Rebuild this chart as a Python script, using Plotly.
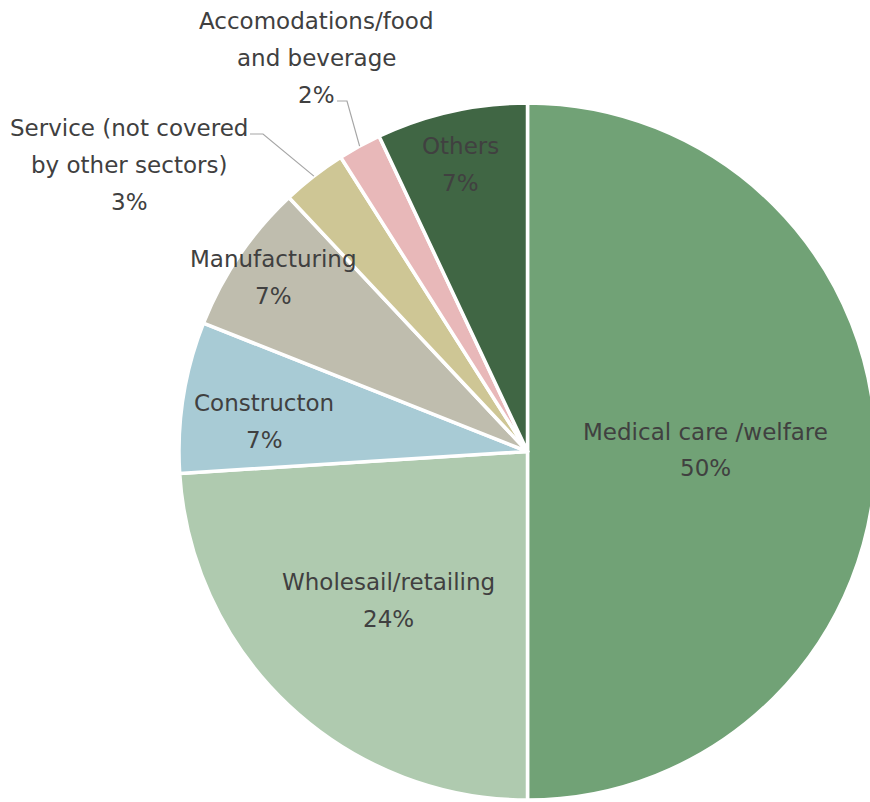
import math
import plotly.graph_objects as go

# ---------------- data ----------------
sectors = [
    "Medical care /welfare",
    "Wholesail/retailing",
    "Constructon",
    "Manufacturing",
    "Service (not covered by other sectors)",
    "Accomodations/food and beverage",
    "Others",
]
shares = [50, 24, 7, 7, 3, 2, 7]
label_lines = [
    ["Medical care /welfare"],
    ["Wholesail/retailing"],
    ["Constructon"],
    ["Manufacturing"],
    ["Service (not covered", "by other sectors)"],
    ["Accomodations/food", "and beverage"],
    ["Others"],
]

# ---------------- style / layout ----------------
colors = ["#71A276", "#AFCAAF", "#A8CBD5", "#BFBDAE", "#CEC695", "#E8B8B9", "#406644"]
W, H = 880, 802
CX, CY, R = 527.5, 451.5, 348.5          # pie centre / radius in pixels
FONT = "DejaVu Sans"
FS = 23
TXT = "#404040"
LINE_GAP = 37
# label block centres (pixels from top-left)
label_centres = [
    (705, 450), (388, 600), (264, 421), (273, 277),
    (129, 165), (316, 58), (461, 165),
]
# leader elbows for outside labels: (elbow point, end point)
leaders = {4: ((263, 134), (250, 134)), 5: ((347, 101), (337, 101))}


def px(x):
    return x / W


def py(y):
    return 1 - y / H


fig = go.Figure(
    go.Pie(
        labels=sectors,
        values=shares,
        sort=False,
        direction="clockwise",
        rotation=0,
        marker=dict(colors=colors, line=dict(color="white", width=3.5)),
        textinfo="none",
        hoverinfo="label+percent",
        domain=dict(x=[px(CX - R), px(CX + R)], y=[py(CY + R), py(CY - R)]),
        showlegend=False,
    )
)

total = sum(shares)
annotations = []
shapes = []
cum = 0.0
for i, v in enumerate(shares):
    mid = (cum + v / 2) / total * 2 * math.pi
    cum += v
    pct = f"{round(v / total * 100)}%"
    lines = label_lines[i] + [pct]
    cx, cy = label_centres[i]
    n = len(lines)
    for k, t in enumerate(lines):
        yy = cy + (k - (n - 1) / 2) * LINE_GAP
        annotations.append(dict(
            text=t, x=px(cx), y=py(yy), xref="paper", yref="paper",
            xanchor="center", yanchor="middle", showarrow=False,
            font=dict(family=FONT, size=FS, color=TXT),
        ))
    if i in leaders:
        ex = CX + R * math.sin(mid)
        ey = CY - R * math.cos(mid)
        (bx, by), (fx, fy) = leaders[i]
        path = f"M {px(ex)} {py(ey)} L {px(bx)} {py(by)} L {px(fx)} {py(fy)}"
        shapes.append(dict(type="path", path=path, xref="paper", yref="paper",
                           line=dict(color="#A6A6A6", width=1.2)))

fig.update_layout(
    width=W, height=H,
    margin=dict(l=0, r=0, t=0, b=0),
    paper_bgcolor="white",
    plot_bgcolor="white",
    annotations=annotations,
    shapes=shapes,
)

fig.write_html(
    "out.html",
    config={"displayModeBar": False},
    post_script="document.body.style.margin='0';document.body.style.overflow='hidden';",
)
